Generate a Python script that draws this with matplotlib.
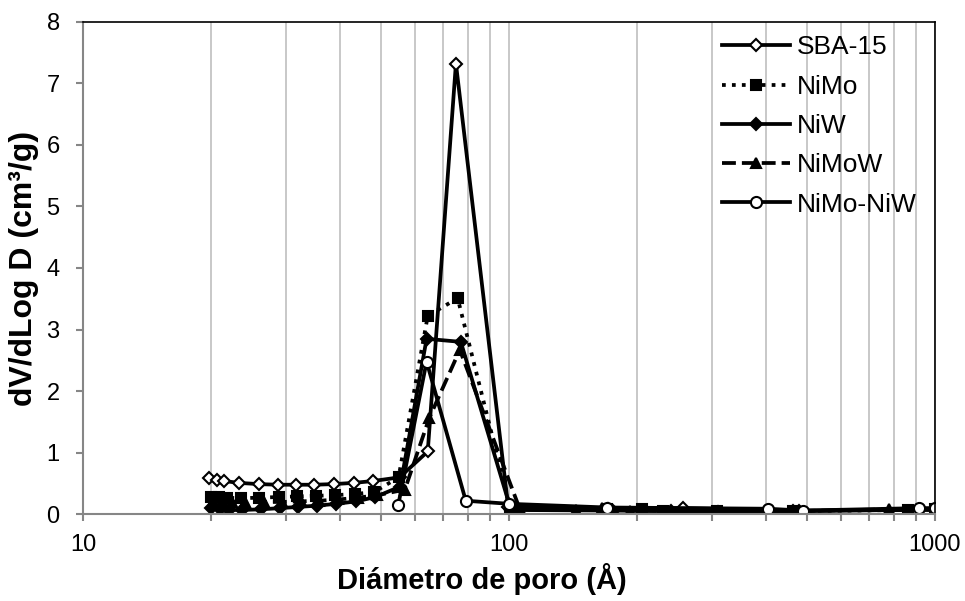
import matplotlib
matplotlib.use("Agg")
import matplotlib.pyplot as plt
from matplotlib.ticker import FixedLocator, LogLocator, NullFormatter

plt.rcParams["font.family"] = ["Liberation Sans", "DejaVu Sans"]

# pore diameter (Å) and dV/dLogD (cm3/g) per sample
sba15_d = [19.7, 20.6, 21.4, 23.2, 25.8, 28.6, 31.6, 34.9, 38.7, 43.2, 47.9,
           55.3, 64.4, 75.0, 99.5, 171, 256, 465, 1000]
sba15_v = [0.59, 0.56, 0.54, 0.51, 0.49, 0.48, 0.48, 0.48, 0.49, 0.51, 0.54,
           0.60, 1.02, 7.32, 0.12, 0.09, 0.10, 0.06, 0.07]

nimo_d = [19.9, 20.8, 21.7, 23.4, 25.9, 28.8, 31.8, 35.2, 39.0, 43.5, 48.2,
          55.0, 64.4, 75.7, 100.5, 170, 205, 230, 308, 465, 862, 1000]
nimo_v = [0.28, 0.28, 0.27, 0.26, 0.27, 0.28, 0.29, 0.30, 0.31, 0.33, 0.36,
          0.60, 3.22, 3.51, 0.12, 0.08, 0.09, 0.06, 0.05, 0.05, 0.07, 0.08]

niw_d = [20.0, 21.0, 22.0, 23.6, 26.1, 29.0, 32.0, 35.4, 39.3, 43.8, 48.5,
         55.5, 64.0, 77.0, 101, 175, 240, 310, 480, 1000]
niw_v = [0.10, 0.08, 0.07, 0.07, 0.08, 0.10, 0.12, 0.14, 0.17, 0.21, 0.28,
         0.45, 2.85, 2.80, 0.07, 0.06, 0.05, 0.04, 0.05, 0.08]

nimow_d = [20.2, 21.2, 22.3, 24.0, 26.5, 29.3, 32.4, 35.8, 39.7, 44.2, 49.0,
           56.9, 64.9, 76.6, 106, 143.5, 165, 192, 308, 460, 780, 1000]
nimow_v = [0.22, 0.21, 0.20, 0.20, 0.20, 0.20, 0.21, 0.22, 0.24, 0.27, 0.31,
           0.40, 1.56, 2.67, 0.08, 0.07, 0.10, 0.06, 0.04, 0.05, 0.08, 0.09]

nimoniw_d = [54.9, 64.0, 79.1, 100, 170, 405, 490, 915, 1000]
nimoniw_v = [0.15, 2.48, 0.22, 0.17, 0.11, 0.09, 0.06, 0.10, 0.10]

series = [
    ("SBA-15", sba15_d, sba15_v, dict(ls="-", marker="D", mfc="white", ms=6)),
    ("NiMo", nimo_d, nimo_v, dict(ls=":", marker="s", mfc="black", ms=7)),
    ("NiW", niw_d, niw_v, dict(ls="-", marker="D", mfc="black", ms=6)),
    ("NiMoW", nimow_d, nimow_v, dict(ls="--", marker="^", mfc="black", ms=7)),
    ("NiMo-NiW", nimoniw_d, nimoniw_v, dict(ls="-", marker="o", mfc="white", ms=8)),
]

fig = plt.figure(figsize=(9.65, 6.01), dpi=100)
ax = fig.add_axes([0.0863, 0.1443, 0.8826, 0.8196])

for name, d, v, style in series:
    ax.plot(d, v, color="black", lw=2.7, mec="black", mew=1.5, label=name, **style)

ax.set_xscale("log")
ax.set_xlim(10, 1000)
ax.set_ylim(0, 8)
ax.set_yticks(range(0, 9))
ax.xaxis.set_major_locator(FixedLocator([10, 100, 1000]))
ax.set_xticklabels(["10", "100", "1000"])
ax.xaxis.set_minor_locator(LogLocator(base=10, subs=range(2, 10)))
ax.xaxis.set_minor_formatter(NullFormatter())

ax.grid(True, which="both", axis="x", color="#bfbfbf", lw=1.2)
ax.set_axisbelow(True)

gray = "#868686"
for side in ("left", "bottom"):
    ax.spines[side].set_color(gray)
    ax.spines[side].set_linewidth(1.5)
for side in ("top", "right"):
    ax.spines[side].set_color("black")
    ax.spines[side].set_linewidth(1.2)

ax.tick_params(axis="both", which="both", color=gray, width=1.5, length=5,
               labelsize=17, direction="out")
ax.tick_params(axis="y", pad=12)
ax.tick_params(axis="x", pad=9)

ax.set_xlabel("Diámetro de poro (Å)", fontsize=21, fontweight="bold")
ax.xaxis.set_label_coords(0.468, -0.098)
ax.set_ylabel("dV/dLog D (cm³/g)", fontsize=23, fontweight="bold", labelpad=5)

ax.legend(loc="upper left", bbox_to_anchor=(0.7496, 0.972), frameon=False,
          fontsize=19, handlelength=2.6, handletextpad=0.25, labelspacing=0.58,
          borderpad=0, borderaxespad=0)

fig.savefig("out.png", dpi=100)
